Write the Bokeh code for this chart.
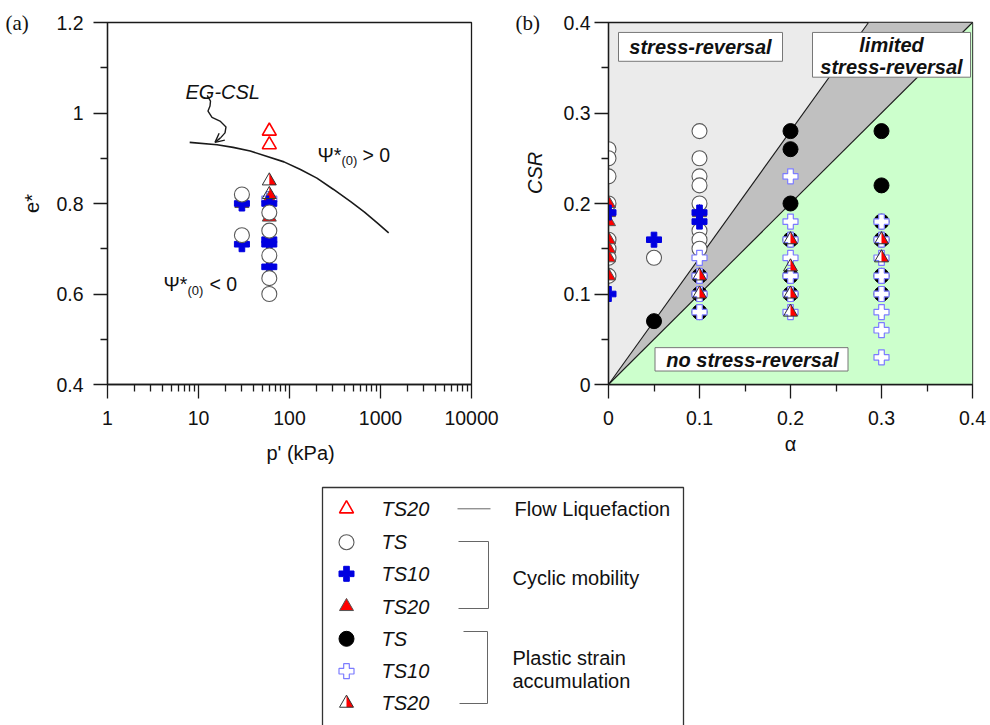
import math
from bokeh.plotting import figure
from bokeh.layouts import row, column
from bokeh.models import (FixedTicker, NumeralTickFormatter, PrintfTickFormatter,
                          Range1d, Arrow, OpenHead, Spacer)
from bokeh.core.properties import value
from bokeh.embed import file_html
from bokeh.resources import INLINE

FONT = "Liberation Sans"
SERIF = "Liberation Serif"
INK = "#1a1a1a"
RED = "#FF0000"
BLUE = "#0000E0"
LBLUE = "#7C7CFF"
CIRC = "#5A5A5A"
NB = "\u00a0"

# ---------------- panel (a): e* versus p' (kPa) ----------------
csl_p = [8, 16, 24, 37, 87, 132, 200, 305, 470, 667, 920, 1230]
csl_e = [0.935, 0.930, 0.924, 0.916, 0.892, 0.875, 0.856, 0.831, 0.804, 0.781, 0.757, 0.735]

a_flow_p = [60, 60]
a_flow_e = [0.96, 0.93]
a_ts_cyc_p = [30, 30, 60, 60, 60, 60, 60]
a_ts_cyc_e = [0.82, 0.73, 0.78, 0.74, 0.685, 0.635, 0.60]
a_ts10_cyc_p = [30, 30, 60, 60, 60, 60]
a_ts10_cyc_e = [0.80, 0.71, 0.80, 0.72, 0.71, 0.66]
a_ts20_cyc_p = [30, 60, 60]
a_ts20_cyc_e = [0.80, 0.81, 0.77]
a_ts10_pl_p = [60]
a_ts10_pl_e = [0.81]
a_ts20_pl_p = [60, 60]
a_ts20_pl_e = [0.85, 0.82]

# ---------------- panel (b): CSR versus alpha ----------------
b_ts_cyc_alpha = [0, 0, 0, 0, 0, 0, 0, 0, 0.05, 0.1, 0.1, 0.1, 0.1, 0.1, 0.1, 0.1, 0.1]
b_ts_cyc_csr = [0.26, 0.25, 0.23, 0.20, 0.16, 0.15, 0.14, 0.12, 0.14,
                0.28, 0.25, 0.23, 0.22, 0.20, 0.17, 0.16, 0.15]
b_ts10_cyc_alpha = [0, 0, 0.05, 0.1, 0.1]
b_ts10_cyc_csr = [0.19, 0.10, 0.16, 0.19, 0.18]
b_ts20_cyc_alpha = [0, 0, 0, 0, 0, 0, 0, 0.1]
b_ts20_cyc_csr = [0.20, 0.19, 0.18, 0.16, 0.15, 0.14, 0.12, 0.19]
b_ts_pl_alpha = [0.05, 0.1, 0.1, 0.1, 0.2, 0.2, 0.2, 0.2, 0.2, 0.2, 0.3, 0.3, 0.3, 0.3, 0.3, 0.3]
b_ts_pl_csr = [0.07, 0.12, 0.10, 0.08, 0.28, 0.26, 0.20, 0.16, 0.12, 0.10,
               0.28, 0.22, 0.18, 0.16, 0.12, 0.10]
b_ts10_pl_alpha = [0.1, 0.1, 0.1, 0.1, 0.2, 0.2, 0.2, 0.2, 0.2, 0.2, 0.2,
                   0.3, 0.3, 0.3, 0.3, 0.3, 0.3, 0.3, 0.3]
b_ts10_pl_csr = [0.14, 0.12, 0.10, 0.08, 0.23, 0.18, 0.16, 0.14, 0.12, 0.10, 0.08,
                 0.18, 0.16, 0.14, 0.12, 0.10, 0.08, 0.06, 0.03]
b_ts20_pl_alpha = [0.1, 0.1, 0.2, 0.2, 0.2, 0.2, 0.3, 0.3]
b_ts20_pl_csr = [0.12, 0.10, 0.16, 0.13, 0.10, 0.08, 0.16, 0.14]

# zone boundaries in panel (b): CSR = slope * alpha
upper_slope = 1.4
lower_slope = 1.0

# legend
leg_labels = ["TS20", "TS", "TS10", "TS20", "TS", "TS10", "TS20"]
leg_keys = ["flow", "ts_cyc", "ts10_cyc", "ts20_cyc", "ts_pl", "ts10_pl", "ts20_pl"]

STY = {
    "flow": dict(marker="triangle", size=14, fill_color=None, line_color=RED, line_width=1.6),
    "ts_cyc": dict(marker="circle", size=15, fill_color="white", line_color=CIRC, line_width=1.1),
    "ts10_cyc": dict(marker="plus", size=15, fill_color=BLUE, line_color=BLUE, line_width=1),
    "ts20_cyc": dict(marker="triangle", size=14, fill_color=RED, line_color="#555555", line_width=1),
    "ts_pl": dict(marker="circle", size=15, fill_color="black", line_color="black", line_width=1),
    "ts10_pl": dict(marker="plus", size=15, fill_color="white", line_color=LBLUE, line_width=1.2),
}
TRI_SIZE = 14
SQ3 = math.sqrt(3)


def half_tri(p, xs, ys, offx, offy, size=TRI_SIZE):
    r = size / 2.0
    h = r * SQ3
    pxs, pys = [], []
    for x, y in zip(xs, ys):
        pxs.append([offx(x, 0), offx(x, 0), offx(x, r)])
        pys.append([offy(y, 2 * h / 3), offy(y, -h / 3), offy(y, -h / 3)])
    p.patches(pxs, pys, fill_color=RED, line_color=None)
    p.scatter(xs, ys, marker="triangle", size=size, fill_color=None,
              line_color="#333333", line_width=1)


def style(p, ylab_standoff):
    p.grid.grid_line_color = None
    p.outline_line_color = INK
    p.outline_line_width = 1.3
    for ax in p.axis:
        ax.axis_line_color = INK
        ax.axis_line_width = 1.3
        ax.major_tick_line_color = INK
        ax.major_tick_line_width = 1.3
        ax.minor_tick_line_color = INK
        ax.minor_tick_line_width = 1.3
        ax.major_tick_out = 14
        ax.major_tick_in = 0
        ax.minor_tick_out = 7
        ax.minor_tick_in = 0
        ax.major_label_text_font = FONT
        ax.major_label_text_font_size = "19.5px"
        ax.major_label_text_color = "#111111"
        ax.axis_label_text_font = FONT
        ax.axis_label_text_font_size = "20px"
        ax.axis_label_text_font_style = "normal"
        ax.axis_label_text_color = "#111111"
        ax.major_label_standoff = 12
    p.yaxis.major_label_standoff = ylab_standoff


def panel_title(p, offset):
    p.title.text_font = SERIF
    p.title.text_font_size = "21px"
    p.title.text_font_style = "normal"
    p.title.text_color = "#111111"
    p.title.align = "left"
    p.title.vertical_align = "bottom"
    p.title.offset = offset
    p.title.standoff = -24


# ======================= panel (a) =======================
pa = figure(width=510, height=470, x_axis_type="log", title="(a)",
            x_range=Range1d(1, 10000), y_range=Range1d(0.4, 1.2),
            output_backend="svg", toolbar_location=None,
            min_border_left=107, min_border_right=39, min_border_top=20, min_border_bottom=86,
            background_fill_color="white", border_fill_color="white")
style(pa, 10)
panel_title(pa, -102)
pa.xaxis.ticker = FixedTicker(ticks=[1, 10, 100, 1000, 10000],
                              minor_ticks=[m * 10 ** d for d in range(4) for m in range(2, 10)])
pa.xaxis.formatter = PrintfTickFormatter(format="%d")
pa.xaxis.axis_label = NB * 4 + "p' (kPa)"
pa.xaxis.axis_label_standoff = 14
pa.yaxis.ticker = FixedTicker(ticks=[0.4, 0.6, 0.8, 1.0, 1.2], minor_ticks=[0.5, 0.7, 0.9, 1.1])
pa.yaxis.formatter = NumeralTickFormatter(format="0.[0]")
pa.yaxis.axis_label = "e*"
pa.yaxis.axis_label_standoff = 10


def pa_x(px):
    return 10 ** ((px - 107) / 91.0)


def pa_y(py):
    return 1.2 - (py - 20) / 455.0


pa_offx = lambda x, d: x * 10 ** (d / 91.0)
pa_offy = lambda y, d: y + d / 455.0

pa.line(csl_p, csl_e, line_color=INK, line_width=1.6)

# EG-CSL arrow
arr_px = [(206.7, 93.3), (210, 99), (209.5, 104), (207.5, 109), (211.5, 115.5), (220, 119.5),
          (225.5, 125), (224.5, 131), (220, 136)]
pa.line([pa_x(q[0]) for q in arr_px], [pa_y(q[1]) for q in arr_px], line_color=INK, line_width=1.4)
pa.add_layout(Arrow(end=OpenHead(size=9, line_width=1.4, line_color=INK),
                    x_start=pa_x(220), y_start=pa_y(136), x_end=pa_x(214.5), y_end=pa_y(140.5),
                    line_color=INK, line_width=1.4))

pa.text([pa_x(185)], [pa_y(90)], text=["EG-CSL"], text_font=value(FONT), text_font_size="20px",
        text_font_style="italic", text_baseline="alphabetic", text_color="#111111")
# Psi labels
pa.text([pa_x(317), pa_x(163)], [pa_y(153), pa_y(283)], text=["\u03a8*", "\u03a8*"],
        text_font=value(FONT), text_font_size="19.5px", text_baseline="alphabetic", text_color="#111111")
pa.text([pa_x(341), pa_x(187)], [pa_y(159), pa_y(289)], text=["(0)", "(0)"],
        text_font=value(FONT), text_font_size="13px", text_baseline="alphabetic", text_color="#111111")
pa.text([pa_x(362), pa_x(209)], [pa_y(153), pa_y(283)], text=["> 0", "< 0"],
        text_font=value(FONT), text_font_size="19.5px", text_baseline="alphabetic", text_color="#111111")

pa.scatter(a_ts10_pl_p, a_ts10_pl_e, **STY["ts10_pl"])
pa.scatter(a_ts20_cyc_p, a_ts20_cyc_e, **STY["ts20_cyc"])
pa.scatter(a_ts10_cyc_p, a_ts10_cyc_e, **STY["ts10_cyc"])
pa.scatter(a_ts_cyc_p, a_ts_cyc_e, **STY["ts_cyc"])
half_tri(pa, a_ts20_pl_p, a_ts20_pl_e, pa_offx, pa_offy)
pa.scatter(a_flow_p, a_flow_e, **STY["flow"])

# ======================= panel (b) =======================
pb = figure(width=480, height=470, x_range=Range1d(0, 0.4), y_range=Range1d(0, 0.4), title="(b)",
            output_backend="svg", toolbar_location=None,
            min_border_left=98, min_border_right=18, min_border_top=22, min_border_bottom=84,
            background_fill_color="#EBEBEB", border_fill_color="white")
style(pb, 4)
panel_title(pb, -93)
pb.xaxis.ticker = FixedTicker(ticks=[0, 0.1, 0.2, 0.3, 0.4], minor_ticks=[0.05, 0.15, 0.25, 0.35])
pb.yaxis.ticker = FixedTicker(ticks=[0, 0.1, 0.2, 0.3, 0.4], minor_ticks=[0.05, 0.15, 0.25, 0.35])
pb.xaxis.formatter = NumeralTickFormatter(format="0.[0]")
pb.yaxis.formatter = NumeralTickFormatter(format="0.[0]")
pb.xaxis.axis_label = "\u03b1"
pb.xaxis.axis_label_standoff = 5
pb.yaxis.axis_label = NB * 11 + "CSR"
pb.yaxis.axis_label_text_font_style = "italic"
pb.yaxis.axis_label_standoff = 14


def pb_x(px):
    return (px - 608) / 910.0


def pb_y(py):
    return (386 - py) / 910.0


pb_off = lambda v, d: v + d / 910.0

top = 0.4
pb.patch([0, top / upper_slope, top / lower_slope], [0, top, top], fill_color="#C0C0C0", line_color=None)
pb.patch([0, top / lower_slope, top / lower_slope], [0, top, 0], fill_color="#CCFFCC", line_color=None)
pb.line([0, top / upper_slope], [0, top], line_color=INK, line_width=1.1)
pb.line([0, top / lower_slope], [0, top], line_color=INK, line_width=1.1)

# zone labels
bx = [pb_x(700), pb_x(891), pb_x(751)]
by = [pb_y(46.5), pb_y(54.5), pb_y(360.7)]
bw = [164 / 910.0, 158 / 910.0, 193 / 910.0]
bh = [29 / 910.0, 45 / 910.0, 23.5 / 910.0]
pb.rect(bx, by, width=bw, height=bh, fill_color="white", line_color="#777777", line_width=1)
pb.text([pb_x(700), pb_x(891), pb_x(891), pb_x(752)],
        [pb_y(47), pb_y(44.5), pb_y(67), pb_y(361)],
        text=["stress-reversal", "limited", "stress-reversal", "no stress-reversal"],
        text_align="center", text_baseline="middle", text_font=value(FONT),
        text_font_style="bold italic", text_font_size="20px", text_color="#111111")

pb.scatter(b_ts_cyc_alpha, b_ts_cyc_csr, **STY["ts_cyc"])
pb.scatter(b_ts20_cyc_alpha, b_ts20_cyc_csr, **STY["ts20_cyc"])
pb.scatter(b_ts10_cyc_alpha, b_ts10_cyc_csr, **STY["ts10_cyc"])
pb.scatter(b_ts_pl_alpha, b_ts_pl_csr, **STY["ts_pl"])
pb.scatter(b_ts10_pl_alpha, b_ts10_pl_csr, **STY["ts10_pl"])
half_tri(pb, b_ts20_pl_alpha, b_ts20_pl_csr, pb_off, pb_off)

# ======================= legend =======================
pl = figure(width=390, height=255, x_range=Range1d(310, 700), y_range=Range1d(725, 470),
            x_axis_type=None, y_axis_type=None, output_backend="svg", toolbar_location=None,
            min_border=0, outline_line_color=None, background_fill_color="white",
            border_fill_color="white")
row_y = [508.3, 541.7, 573.3, 606, 638.3, 670.7, 702.7]
mx = 346
pl.line([322, 322, 683, 683], [740, 487, 487, 740], line_color="#333333", line_width=1.3)
for key, yy in zip(leg_keys, row_y):
    if key == "ts20_pl":
        half_tri(pl, [mx], [yy], lambda v, d: v + d, lambda v, d: v - d)
    else:
        pl.scatter([mx], [yy], **STY[key])
pl.text([381] * len(leg_labels), row_y, text=leg_labels, text_baseline="middle",
        text_font=value(FONT), text_font_style="italic", text_font_size="20px", text_color="#111111")
pl.line([457, 490], [508.3, 508.3], line_color="#666666", line_width=1)
pl.line([458, 488, 488, 458], [541, 541, 608, 608], line_color="#666666", line_width=1)
pl.line([463, 487, 487, 459], [631, 631, 703, 703], line_color="#666666", line_width=1)
pl.text([514, 512, 512, 512], [508.3, 577, 657, 680],
        text=["Flow Liquefaction", "Cyclic mobility", "Plastic strain", "accumulation"],
        text_baseline="middle", text_font=value(FONT), text_font_size="20px", text_color="#111111")

layout = column(row(pa, pb), row(Spacer(width=310, height=255), pl))
open("out.html", "w").write(file_html(layout, INLINE))
